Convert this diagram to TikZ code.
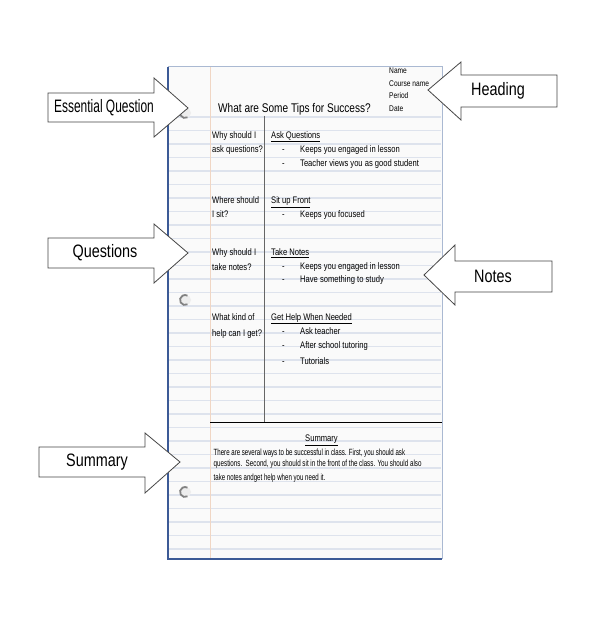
\documentclass[tikz,border=0pt]{standalone}
\usepackage{fontspec}
\setmainfont{Liberation Sans}
\newfontfamily\nf[FakeStretch=0.8]{Liberation Sans}
\definecolor{rulec}{RGB}{222,227,237}
\definecolor{leftblue}{RGB}{60,90,150}
\definecolor{rightblue}{RGB}{170,185,210}
\definecolor{marginc}{RGB}{240,214,196}
\definecolor{arrowc}{RGB}{70,70,70}
\definecolor{holec}{RGB}{130,130,130}
\begin{document}
\begin{tikzpicture}[x=1pt,y=-1pt,
  blockarrow/.style={fill=white,draw=arrowc,line width=0.8pt,line join=miter},
  biglabel/.style={font=\nf\fontsize{18}{20}\selectfont,inner sep=0pt},
  small/.style={font=\nf\fontsize{9.5}{11}\selectfont,anchor=base west,inner sep=0pt},
  tiny/.style={font=\nf\fontsize{8.3}{10}\selectfont,anchor=base west,inner sep=0pt},
  para/.style={font=\nf\fontsize{9}{11}\selectfont,anchor=base west,inner sep=0pt},
  rule/.style={draw=rulec,line width=1.6pt},
  hole/.style={draw=holec,line width=1.8pt}]
\useasboundingbox (0,0) rectangle (600,620);
\fill[white] (0,0) rectangle (600,620);
% paper
\fill[white!98!black] (168,67) rectangle (442,559);
\foreach \yy in {117,130.5,...,556} \draw[rule] (169,\yy) -- (441,\yy);
\draw[marginc,line width=1pt] (210,67) -- (210,559);
\draw[rightblue,line width=1pt] (168,67) -- (442,67) -- (442,559);
\draw[leftblue,line width=1.3pt] (168,67) -- (168,559) -- (442,559);
% holes
\foreach \hy in {113,300,492}{
  \fill[white!93!black] (186,\hy) circle (5);
  \draw[hole] (185,\hy) ++(60:5) arc[start angle=60,end angle=300,radius=5];
}
% column divider and summary line
\coordinate (divtop) at (264,116);
\coordinate (divbot) at (264,422);
\coordinate (sumL) at (210,422);
\coordinate (sumR) at (442,422);
\draw[gray!80!black,line width=0.8pt] (divtop) -- (divbot);
\draw[black,line width=1pt] (sumL) -- (sumR);
% heading texts
\node[font=\nf\fontsize{12.6}{15}\selectfont,anchor=base west,inner sep=0pt] (title) at (218,113) {What are Some Tips for Success?};
\node[tiny] (nm) at (389,73.5) {Name};
\node[tiny] (cn) at (389,86.5) {Course name};
\node[tiny] (pd) at (389,99) {Period};
\node[tiny] (dt) at (389,111.5) {Date};
% questions column
\node[small] (q1a) at (212,139) {Why should I};
\node[small] (q1b) at (212,152.5) {ask questions?};
\node[small] (q2a) at (212,204) {Where should};
\node[small] (q2b) at (212,218) {I sit?};
\node[small] (q3a) at (212,255.7) {Why should I};
\node[small] (q3b) at (212,270) {take notes?};
\node[small] (q4a) at (212,320) {What kind of};
\node[small] (q4b) at (212,336.7) {help can I get?};
% notes column
\node[small] (h1) at (271,138.5) {\underline{Ask Questions}};
\node[small] (d11) at (282,152.7) {-};
\node[small] (n11) at (300,152.7) {Keeps you engaged in lesson};
\node[small] (d12) at (282,166.7) {-};
\node[small] (n12) at (300,166.7) {Teacher views you as good student};
\node[small] (h2) at (271,204) {\underline{Sit up Front}};
\node[small] (d21) at (282,217.5) {-};
\node[small] (n21) at (300,217.5) {Keeps you focused};
\node[small] (h3) at (271,255.7) {\underline{Take Notes}};
\node[small] (d31) at (282,269) {-};
\node[small] (n31) at (300,269) {Keeps you engaged in lesson};
\node[small] (d32) at (282,282.7) {-};
\node[small] (n32) at (300,282.7) {Have something to study};
\node[small] (h4) at (271,320) {\underline{Get Help When Needed}};
\node[small] (d41) at (282,334.3) {-};
\node[small] (n41) at (300,334.3) {Ask teacher};
\node[small] (d42) at (282,348.3) {-};
\node[small] (n42) at (300,348.3) {After school tutoring};
\node[small] (d43) at (282,364.3) {-};
\node[small] (n43) at (300,364.3) {Tutorials};
% summary
\node[small,anchor=base] (sh) at (321.5,441.7) {\underline{Summary}};
\node[para] (s1) at (213.5,455) {\scalebox{0.85}[1]{There are several ways to be successful in class. First, you should ask}};
\node[para] (s2) at (213.5,466.7) {\scalebox{0.87}[1]{questions.\ \ Second, you should sit in the front of the class. You should also}};
\node[para] (s3) at (213.5,480.7) {\scalebox{0.85}[1]{take notes andget help when you need it.}};
% block arrows
\draw[blockarrow] (48,93) -- (154,93) -- (154,78) -- (188,108) -- (154,137) -- (154,122) -- (48,122) -- cycle;
\node[biglabel] (eq) at (104,108) {\scalebox{0.83}[1]{Essential Question}};
\draw[blockarrow] (557,75) -- (461,75) -- (461,62) -- (428,90) -- (461,120) -- (461,107) -- (557,107) -- cycle;
\node[biglabel] (hd) at (498,91) {Heading};
\draw[blockarrow] (48,238) -- (154,238) -- (154,224) -- (188,253) -- (154,283) -- (154,268) -- (48,268) -- cycle;
\node[biglabel] (qs) at (105,253) {Questions};
\draw[blockarrow] (552,261) -- (455,261) -- (455,245) -- (424,275) -- (455,305) -- (455,292) -- (552,292) -- cycle;
\node[biglabel] (nt) at (493,276) {Notes};
\draw[blockarrow] (39,447) -- (145,447) -- (145,433) -- (180,462) -- (145,493) -- (145,477) -- (39,477) -- cycle;
\node[biglabel] (sm) at (97,462) {Summary};
\end{tikzpicture}
\end{document}
